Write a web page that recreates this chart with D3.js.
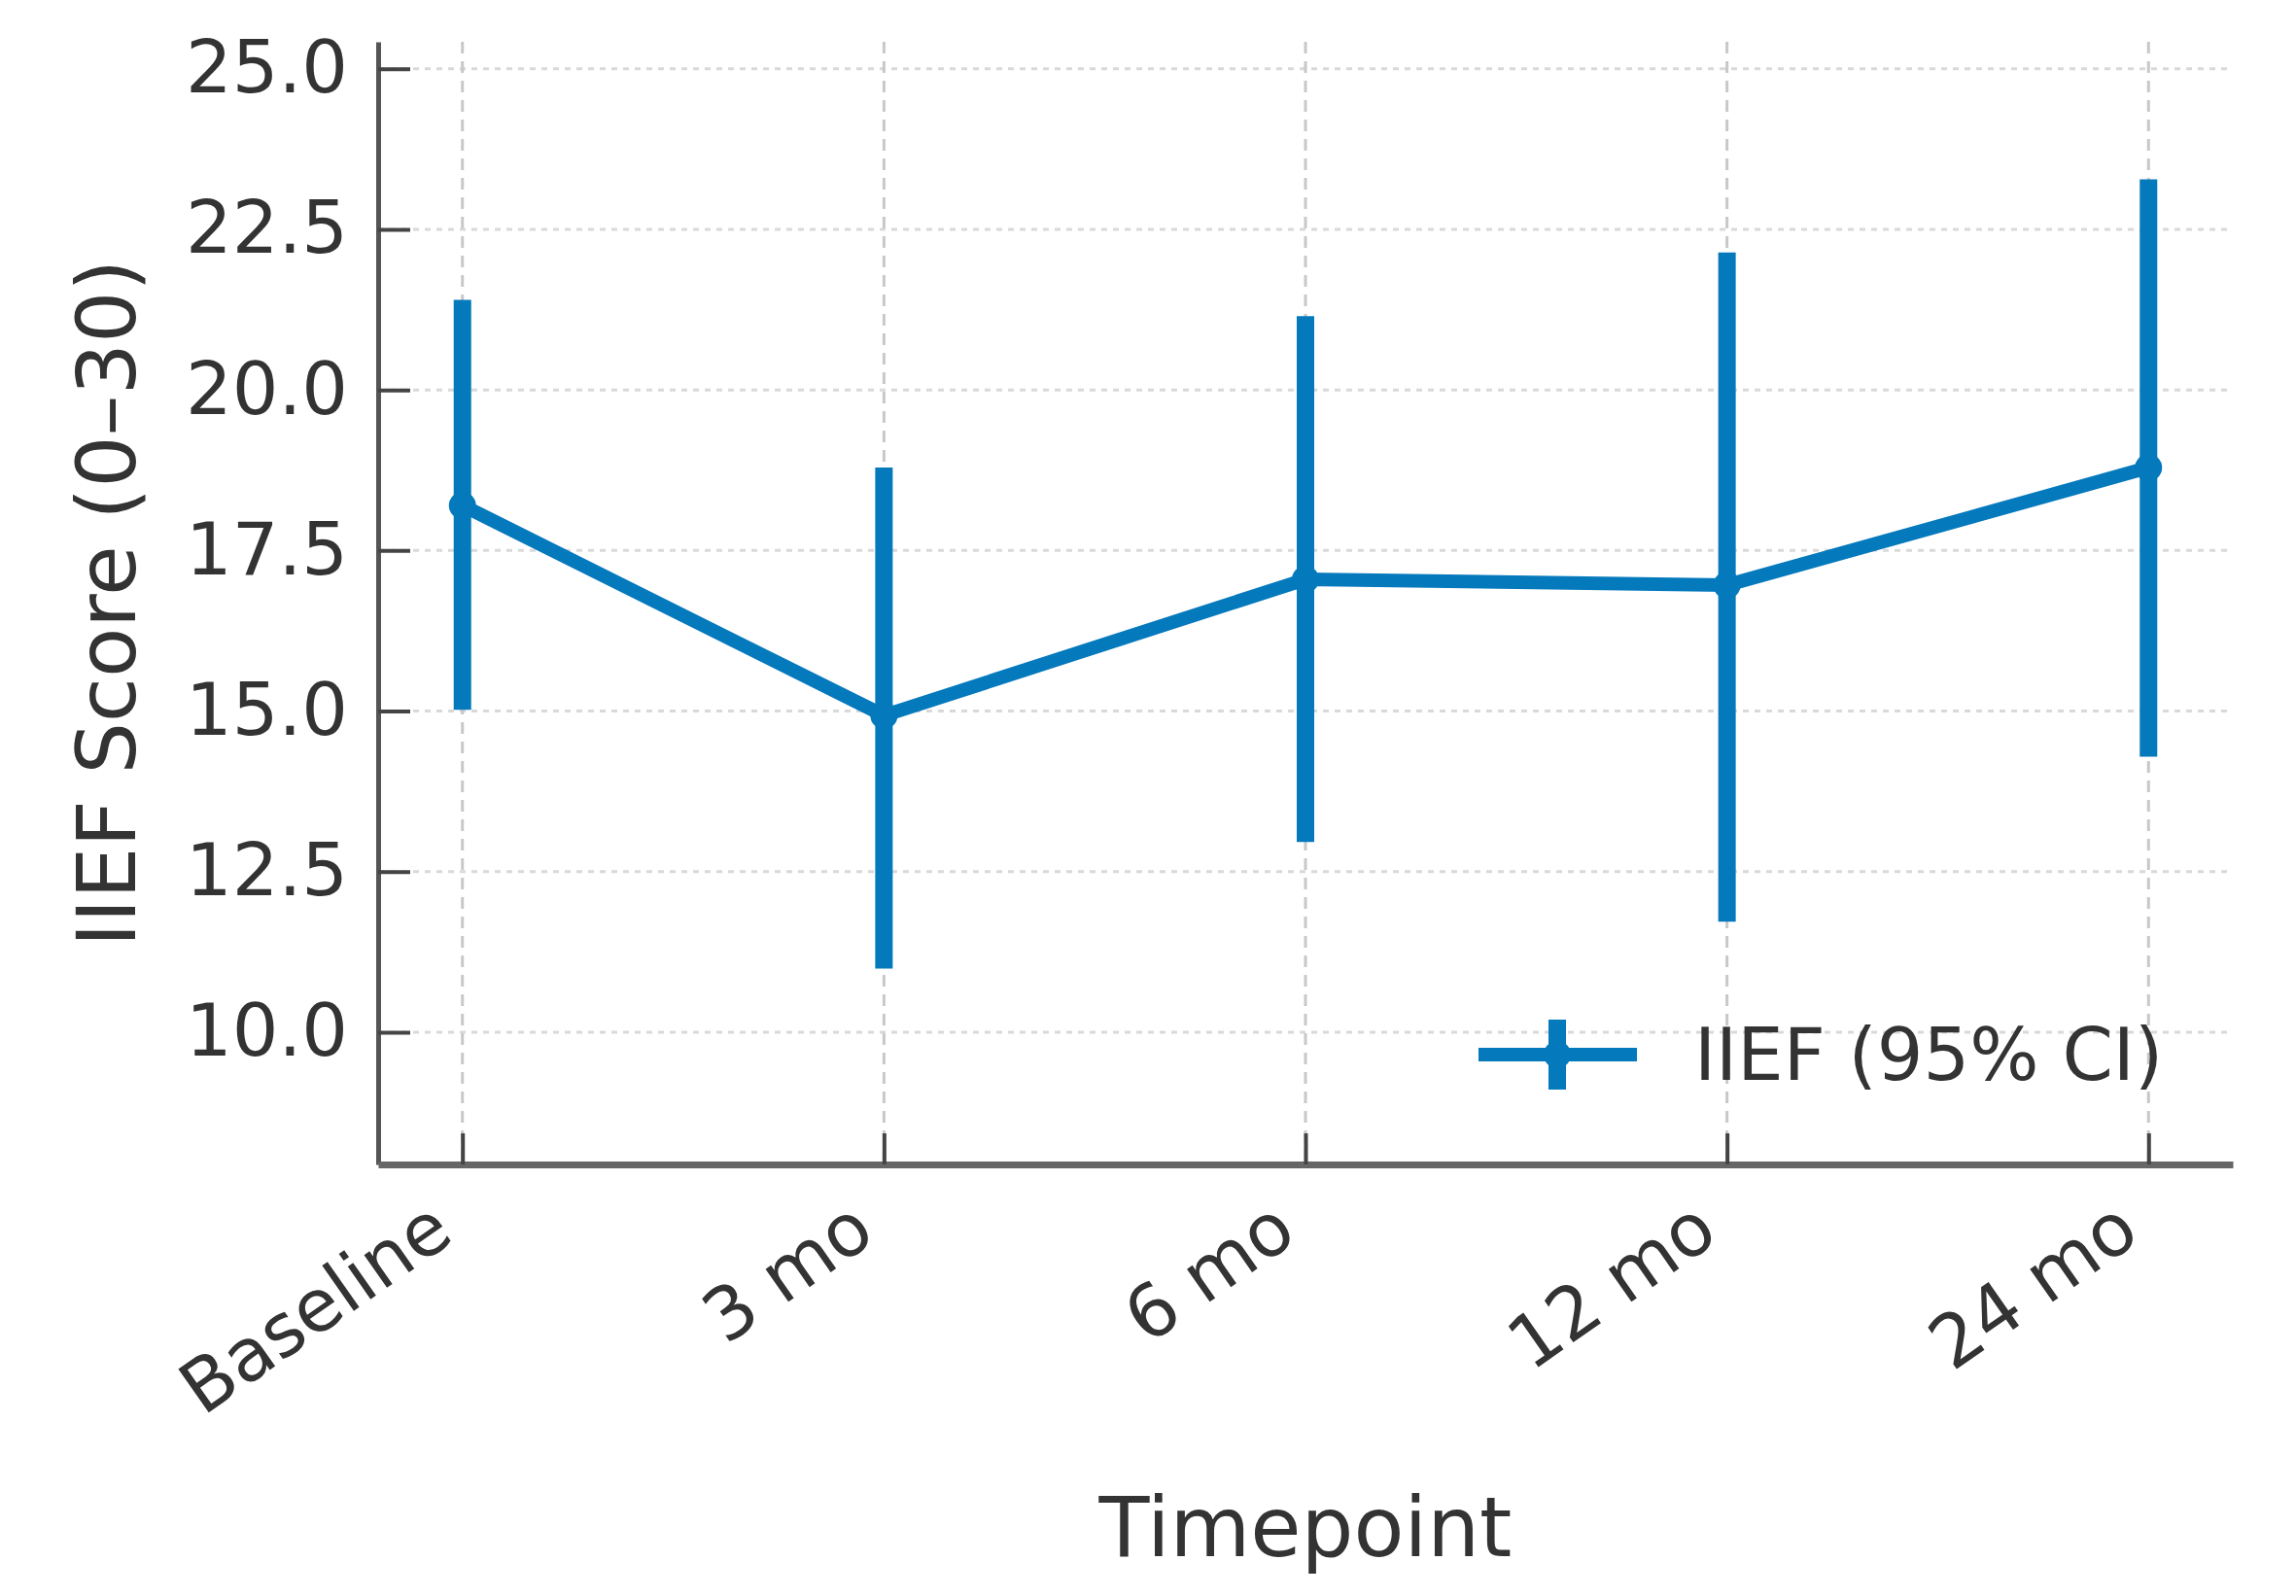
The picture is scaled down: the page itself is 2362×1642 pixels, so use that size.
<!doctype html>
<html lang="en">
<head>
<meta charset="utf-8">
<script src="https://cdn.jsdelivr.net/npm/d3@7/dist/d3.min.js"></script>
<style>
    html, body { margin: 0; padding: 0; background: #fff; }
    svg text { font-family: "DejaVu Sans", sans-serif; fill: #333; }
</style>
</head>
<body>
<svg id="chart" width="2362" height="1642"></svg>
<script>
    // data
    var timepoints = ["Baseline", "3 mo", "6 mo", "12 mo", "24 mo"];
    var iiefMean  = [18.2, 14.93, 17.05, 16.96, 18.79];
    var ciLower   = [15.02, 10.99, 12.96, 11.72, 14.29];
    var ciUpper   = [21.40, 18.79, 21.15, 22.14, 23.28];
    var yTicks    = [10.0, 12.5, 15.0, 17.5, 20.0, 22.5, 25.0];
    var legendLabel = "IIEF (95% CI)";

    var blue = "#0479bc";
    var tickFont = "75px";

    // plot box (don't call it "top", that's window.top)
    var plotLeft = 389, plotRight = 2297, plotTop = 43, plotBottom = 1198;

    var svg = d3.select("#chart");

    var x = d3.scaleLinear().domain([-0.2, 4.2]).range([plotLeft, plotRight]);
    var y = d3.scaleLinear().domain([7.94, 25.42]).range([plotBottom, plotTop]);

    var idx = d3.range(timepoints.length);

    // grid
    svg.append("g").selectAll("line")
        .data(yTicks).join("line")
        .attr("x1", plotLeft).attr("x2", plotRight)
        .attr("y1", d => y(d)).attr("y2", d => y(d))
        .attr("stroke", "#d9d9d9")
        .attr("stroke-width", 3)
        .attr("stroke-dasharray", "6,6");

    svg.append("g").selectAll("line")
        .data(idx).join("line")
        .attr("x1", d => x(d)).attr("x2", d => x(d))
        .attr("y1", plotTop).attr("y2", plotBottom)
        .attr("stroke", "#c8c8c8")
        .attr("stroke-width", 3)
        .attr("stroke-dasharray", "12,8");

    // y axis, ticks pointing in
    var yAxis = d3.axisLeft(y)
        .tickValues(yTicks)
        .tickFormat(d3.format(".1f"))
        .tickSizeInner(-33)
        .tickSizeOuter(0)
        .tickPadding(31);

    var gy = svg.append("g")
        .attr("transform", "translate(" + plotLeft + ",0)")
        .call(yAxis);
    gy.select(".domain").attr("stroke", "#555").attr("stroke-width", 5);
    gy.selectAll(".tick line").attr("stroke", "#444").attr("stroke-width", 4);
    gy.selectAll(".tick text")
        .style("font-size", tickFont)
        .attr("fill", "#333");

    // x axis
    var xAxis = d3.axisBottom(x)
        .tickValues(idx)
        .tickFormat(i => timepoints[i])
        .tickSizeInner(-32)
        .tickSizeOuter(0);

    var gx = svg.append("g")
        .attr("transform", "translate(0," + plotBottom + ")")
        .call(xAxis);
    gx.select(".domain").attr("stroke", "#666").attr("stroke-width", 7);
    gx.selectAll(".tick line").attr("stroke", "#444").attr("stroke-width", 4);
    gx.selectAll(".tick text")
        .style("font-size", tickFont)
        .attr("fill", "#333")
        .attr("text-anchor", "end")
        .attr("dy", null)
        .attr("y", null)
        .attr("transform", "translate(-7,77) rotate(-35)");

    // axis titles
    svg.append("text")
        .attr("x", (plotLeft + plotRight) / 2)
        .attr("y", 1601)
        .attr("text-anchor", "middle")
        .style("font-size", "85px")
        .text("Timepoint");

    svg.append("text")
        .attr("transform", "translate(139," + ((plotTop + plotBottom) / 2) + ") rotate(-90)")
        .attr("text-anchor", "middle")
        .style("font-size", "84px")
        .text("IIEF Score (0\u201330)");

    // error bars
    svg.append("g").selectAll("line")
        .data(idx).join("line")
        .attr("x1", d => x(d)).attr("x2", d => x(d))
        .attr("y1", d => y(ciLower[d])).attr("y2", d => y(ciUpper[d]))
        .attr("stroke", blue)
        .attr("stroke-width", 18);

    // mean line
    var line = d3.line()
        .x(d => x(d))
        .y(d => y(iiefMean[d]));

    svg.append("path")
        .attr("d", line(idx))
        .attr("fill", "none")
        .attr("stroke", blue)
        .attr("stroke-width", 14)
        .attr("stroke-linejoin", "round");

    svg.append("g").selectAll("circle")
        .data(idx).join("circle")
        .attr("cx", d => x(d))
        .attr("cy", d => y(iiefMean[d]))
        .attr("r", 14)
        .attr("fill", blue);

    // legend (no frame)
    var lg = svg.append("g").attr("transform", "translate(1521,1085)");
    lg.append("line")
        .attr("x1", 0).attr("x2", 163).attr("y1", 0).attr("y2", 0)
        .attr("stroke", blue).attr("stroke-width", 14);
    lg.append("line")
        .attr("x1", 81).attr("x2", 81).attr("y1", -36).attr("y2", 36)
        .attr("stroke", blue).attr("stroke-width", 18);
    lg.append("circle")
        .attr("cx", 81).attr("cy", 0).attr("r", 14).attr("fill", blue);
    lg.append("text")
        .attr("x", 222).attr("y", 0).attr("dy", "0.35em")
        .style("font-size", tickFont)
        .text(legendLabel);
</script>
</body>
</html>
